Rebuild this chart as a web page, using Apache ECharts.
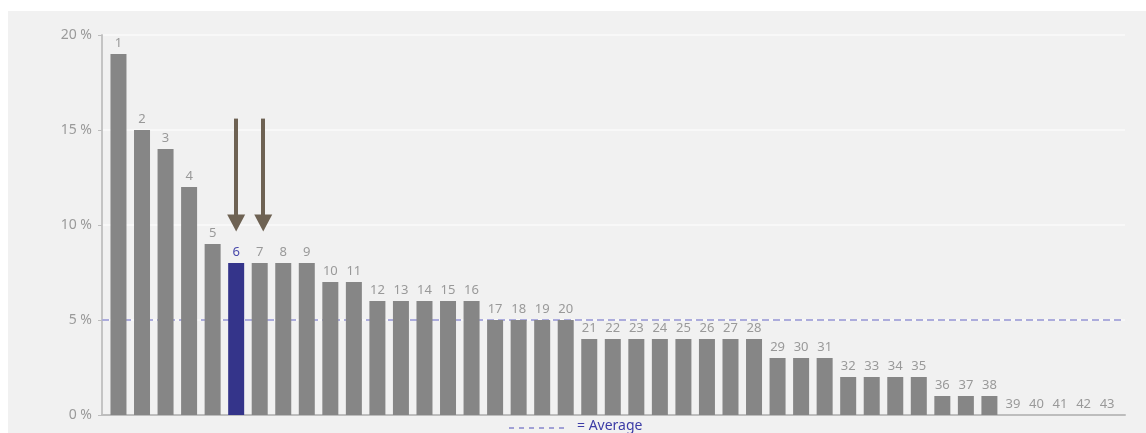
<!DOCTYPE html>
<html>
<head>
<meta charset="utf-8">
<script src="https://cdn.jsdelivr.net/npm/echarts@6/dist/echarts.min.js"></script>
<style>
  html, body { margin: 0; padding: 0; background: #fff; }
  #chart { width: 1146px; height: 433px; }
</style>
</head>
<body>
<div id="chart"></div>
<script>
// ranks shown above each bar
const ranks = [1, 2, 3, 4, 5, 6, 7, 8, 9, 10, 11, 12, 13, 14, 15, 16, 17, 18, 19, 20, 21,
  22, 23, 24, 25, 26, 27, 28, 29, 30, 31, 32, 33, 34, 35, 36, 37, 38, 39, 40, 41, 42, 43];
// share in percent
const shares = [19, 15, 14, 12, 9, 8, 8, 8, 8, 7, 7, 6, 6, 6, 6, 6, 5, 5, 5, 5, 4,
  4, 4, 4, 4, 4, 4, 4, 3, 3, 3, 2, 2, 2, 2, 1, 1, 1, 0, 0, 0, 0, 0];
const yTicks = [0, 5, 10, 15, 20];
const average = 5;
const highlightRank = 6;
// arrows: x position (rank units), from / to values
const arrowX = [6, 7.15];
const arrowFrom = 15.6;
const arrowTo = 10.1;

const xMin = 0.3, xMax = 43.76;

var myChart = echarts.init(document.getElementById('chart'));
var option = {
    backgroundColor: '#ffffff',
    animation: false,
    textStyle: { fontFamily: 'Noto Sans' },
    graphic: [
        { type: 'rect', z: -10, shape: { x: 8, y: 11, width: 1138, height: 422 }, style: { fill: '#f1f1f1' } },
        { type: 'line', shape: { x1: 509, y1: 428, x2: 568, y2: 428 }, style: { stroke: '#8585cc', lineWidth: 1.5, lineDash: [5, 5] } },
        { type: 'text', left: 577, top: 419, style: { text: '= Average', fill: '#3c3ca6', font: '14px Noto Sans' } }
    ],
    grid: { left: 102, right: 21, top: 35, bottom: 18 },
    xAxis: {
        type: 'value',
        min: xMin,
        max: xMax,
        axisLine: { show: true, lineStyle: { color: '#bdbdbd', width: 2 } },
        axisTick: { show: false },
        axisLabel: { show: false },
        splitLine: { show: false }
    },
    yAxis: {
        type: 'value',
        min: yTicks[0],
        max: yTicks[yTicks.length - 1],
        interval: 5,
        axisLine: { show: true, lineStyle: { color: '#c4c4c4', width: 2 } },
        axisTick: { show: true, length: 4, lineStyle: { color: '#bdbdbd' } },
        axisLabel: { formatter: '{value} %', color: '#9a9a9a', fontSize: 14, margin: 10 },
        splitLine: { show: true, lineStyle: { color: '#f8f8f8', width: 2 } }
    },
    series: [
        {
            type: 'line',
            z: 1,
            symbol: 'none',
            silent: true,
            data: [[xMin, average], [xMax, average]],
            lineStyle: { color: '#acacdc', width: 2, type: [7, 4] }
        },
        {
            type: 'bar',
            z: 2,
            barWidth: 16,
            data: ranks.map((r, i) => ({
                value: [r, shares[i]],
                itemStyle: { color: r === highlightRank ? '#34348a' : '#868686' },
                label: { color: r === highlightRank ? '#4848aa' : '#999999' }
            })),
            label: {
                show: true,
                position: 'top',
                distance: 4,
                fontSize: 13,
                formatter: p => p.value[0]
            },
            markLine: {
                silent: true,
                symbol: ['none', 'triangle'],
                symbolSize: [18, 17],
                label: { show: false },
                lineStyle: { color: '#6e6253', width: 4, type: 'solid' },
                data: arrowX.map(x => [{ coord: [x, arrowFrom] }, { coord: [x, arrowTo] }])
            }
        }
    ]
};
myChart.setOption(option);
</script>
</body>
</html>
